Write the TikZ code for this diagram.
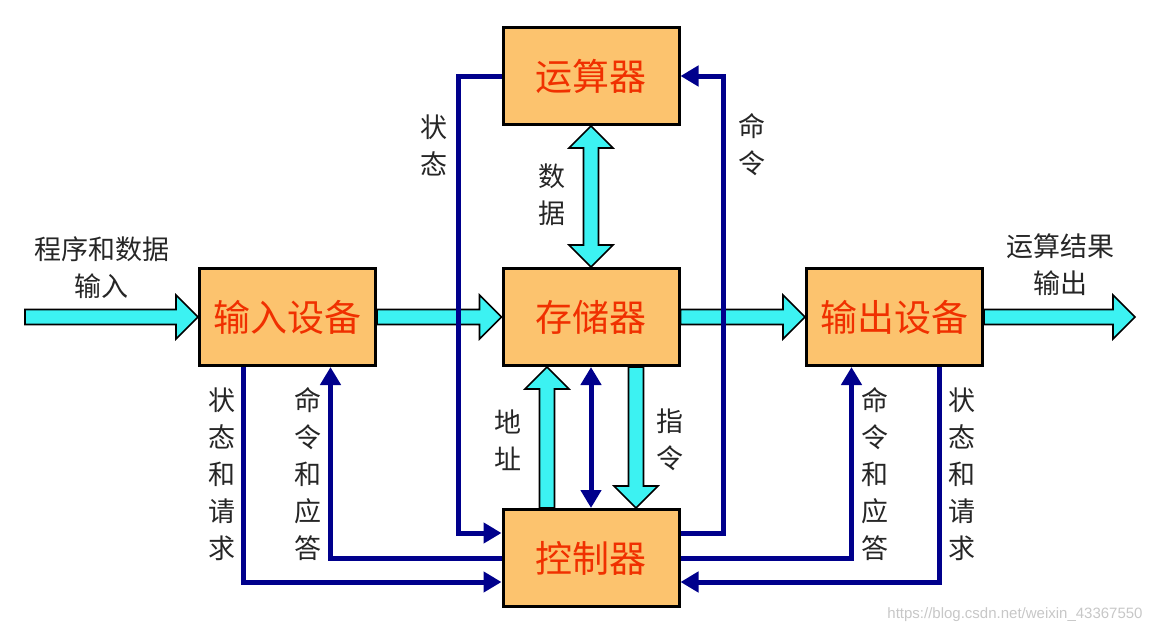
\documentclass[tikz,border=0pt]{standalone}
\usepackage{fontspec}
\newfontfamily\cjk{Noto Sans CJK SC}
\newfontfamily\urlfont{Liberation Sans}
\usetikzlibrary{positioning,calc,arrows.meta}
\definecolor{boxfill}{HTML}{FCC36E}
\definecolor{boxtext}{HTML}{F03000}
\definecolor{buscyan}{HTML}{3CF2F2}
\definecolor{ctlblue}{HTML}{00008C}

% fat bus arrow, one head
\newcommand\busarrow[2]{%
  \coordinate (bh) at ($(#2)!11pt!(#1)$);
  \filldraw[bus] ($(#1)!3.75pt!90:(#2)$) -- ($(bh)!3.75pt!90:(#2)$) -- ($(bh)!11pt!90:(#2)$) -- (#2)
    -- ($(bh)!11pt!-90:(#2)$) -- ($(bh)!3.75pt!-90:(#2)$) -- ($(#1)!3.75pt!-90:(#2)$) -- cycle;}
% fat bus arrow, two heads
\newcommand\busboth[2]{%
  \coordinate (bt) at ($(#1)!11pt!(#2)$);
  \coordinate (bh) at ($(#2)!11pt!(#1)$);
  \filldraw[bus] (#1) -- ($(bt)!11pt!90:(#2)$) -- ($(bt)!3.75pt!90:(#2)$) -- ($(bh)!3.75pt!90:(#2)$)
    -- ($(bh)!11pt!90:(#2)$) -- (#2) -- ($(bh)!11pt!-90:(#2)$) -- ($(bh)!3.75pt!-90:(#2)$)
    -- ($(bt)!3.75pt!-90:(#2)$) -- ($(bt)!11pt!-90:(#2)$) -- cycle;}

\begin{document}
\begin{tikzpicture}[x=0.5pt,y=-0.5pt,on grid,node distance=120.5pt and 151.75pt,
  >={Triangle[length=9pt,width=10pt]},
  unit/.style={draw,line width=1.5pt,fill=boxfill,minimum width=88pt,minimum height=48.5pt,
    inner sep=0pt,font=\cjk\fontsize{18.5pt}{20pt}\selectfont,text=boxtext},
  bus/.style={fill=buscyan,draw=black,line width=0.8pt},
  ctl/.style={draw=ctlblue,line width=2.5pt,->},
  lbl/.style={font=\cjk\fontsize{13.5pt}{18.5pt}\selectfont,align=center,inner sep=0pt,text=black!85}]
\useasboundingbox (0,0) rectangle (1153,633);

\node[unit] (mem) at (591,317) {存储器};
\node[unit,above=of mem] (alu) {运算器};
\node[unit,below=of mem] (ctrl) {控制器};
\node[unit,left=of mem] (in) {输入设备};
\node[unit,right=of mem] (out) {输出设备};

% data paths
\coordinate (src) at (25,317);
\coordinate (dst) at (1135,317);
\coordinate (addr0) at ($(ctrl.north)+(-44,0)$);
\coordinate (addr1) at ($(mem.south)+(-44,0)$);
\coordinate (inst0) at ($(mem.south)+(45,0)$);
\coordinate (inst1) at ($(ctrl.north)+(45,0)$);
\busarrow{src}{in.west}
\busarrow{in.east}{mem.west}
\busarrow{mem.east}{out.west}
\busarrow{out.east}{dst}
\busboth{alu.south}{mem.north}
\busarrow{addr0}{addr1}
\busarrow{inst0}{inst1}

% control paths
\draw[ctl] (alu.west) -- ++(-43,0) |- ($(ctrl.west)+(0,-25)$);
\draw[ctl] ($(ctrl.east)+(0,-25)$) -- ++(43,0) |- (alu.east);
\draw[ctl,<->] (mem.south) -- (ctrl.north);
\draw[ctl] ($(in.south)+(-44,0)$) |- ($(ctrl.west)+(0,24)$);
\draw[ctl] (ctrl.west) -| ($(in.south)+(43,0)$);
\draw[ctl] (ctrl.east) -| ($(out.south)+(-43,0)$);
\draw[ctl] ($(out.south)+(45,0)$) |- ($(ctrl.east)+(0,24)$);

% labels
\node[lbl] (srclbl) at (102,268) {程序和数据\\输入};
\node[lbl] (dstlbl) at (1060,265) {运算结果\\输出};
\node[lbl] (st1) at (434,145) {状\\态};
\node[lbl] (cmd1) at (752,145) {命\\令};
\node[lbl] (data) at (552,195) {数\\据};
\node[lbl] (addr) at (508,440) {地\\址};
\node[lbl] (inst) at (670,440) {指\\令};
\node[lbl] (st2) at (222,474) {状\\态\\和\\请\\求};
\node[lbl] (cmd2) at (308,474) {命\\令\\和\\应\\答};
\node[lbl] (cmd3) at (875,474) {命\\令\\和\\应\\答};
\node[lbl] (st3) at (962,474) {状\\态\\和\\请\\求};
\node[font=\urlfont\fontsize{7.5pt}{7.5pt}\selectfont,text=black!22,anchor=east,inner sep=0pt] (wm)
  at (1143,615) {https://blog.csdn.net/weixin\_43367550};
\end{tikzpicture}
\end{document}
